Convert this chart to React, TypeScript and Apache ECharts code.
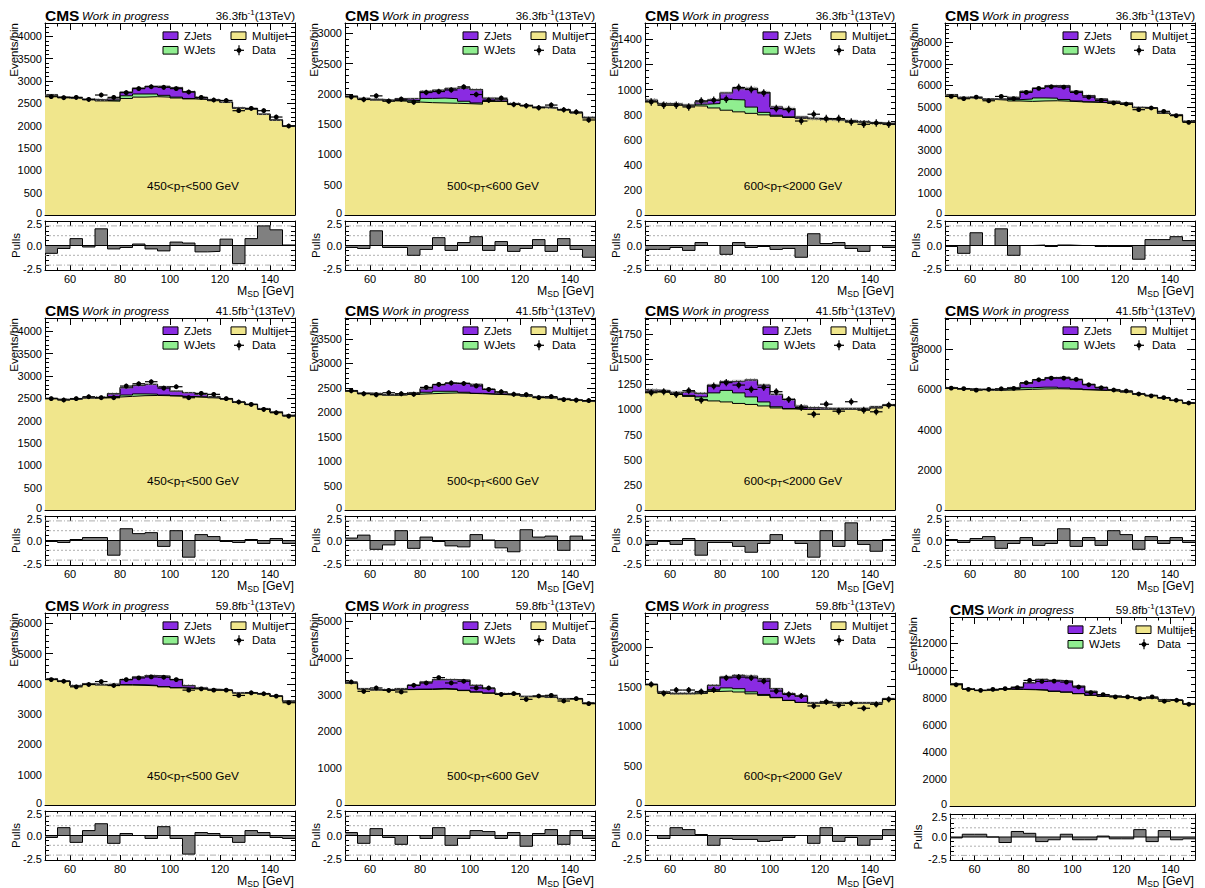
import React, { useEffect, useRef } from "react";
import * as echarts from "echarts";

const FONT = "Liberation Sans, Arial, Helvetica, sans-serif";

const massEdges = [50, 55, 60, 65, 70, 75, 80, 85, 90, 95, 100, 105, 110, 115, 120, 125, 130, 135, 140, 145, 150];
const xTickValues = [60, 80, 100, 120, 140];
const pullTickValues = [-2.5, 0, 2.5];
const pullRefLines = [1, -1, 2, -2];
const lumiLabels = ["36.3", "41.5", "59.8"];
const ptBinLabels: (string[] | null)[] = [["450", "500"], ["500", "600"], ["600", "2000"], null];

// ---- 2016 ----
const mj16_450 = [2685, 2635, 2615, 2580, 2555, 2550, 2610, 2640, 2650, 2640, 2620, 2600, 2590, 2560, 2520, 2390, 2370, 2252, 2122, 1983];
const wj16_450 = [3, 3, 3, 5, 10, 25, 60, 70, 60, 40, 20, 10, 6, 4, 3, 3, 3, 3, 3, 3];
const zj16_450 = [2, 2, 2, 5, 15, 25, 80, 130, 170, 200, 210, 150, 34, 16, 7, 7, 7, 5, 5, 4];
const data16_450 = [2650, 2627, 2635, 2590, 2687, 2635, 2740, 2830, 2873, 2860, 2830, 2755, 2635, 2575, 2565, 2336, 2388, 2336, 2194, 1993];
const pull16_450 = [-0.8, -0.3, 0.7, -0.15, 1.7, -0.35, -0.2, 0.15, -0.35, -0.55, 0.35, 0.25, -0.65, -0.6, 0.65, -1.85, 0.7, 2.0, 1.6, 0.05];

const mj16_500 = [1955, 1918, 1900, 1885, 1880, 1865, 1855, 1850, 1845, 1838, 1830, 1875, 1875, 1832, 1804, 1775, 1765, 1735, 1685, 1605];
const wj16_500 = [3, 3, 3, 5, 15, 25, 70, 80, 75, 40, 20, 10, 5, 3, 3, 3, 3, 3, 3, 3];
const zj16_500 = [4, 3, 4, 6, 23, 34, 115, 130, 170, 222, 220, 45, 30, 5, 3, 2, 2, 2, 2, 2];
const data16_500 = [1951, 1907, 1967, 1880, 1913, 1864, 2022, 2038, 2065, 2115, 1989, 1896, 1929, 1825, 1804, 1771, 1815, 1738, 1700, 1569];
const pull16_500 = [-0.2, -0.3, 1.5, -0.2, -0.2, -1.0, -0.4, 0.8, -0.5, 0.3, 0.9, -0.5, 0.4, -0.6, -0.3, 0.6, -0.6, 0.7, -0.4, -1.2];

const mj16_600 = [905, 885, 880, 870, 868, 853, 835, 822, 810, 798, 787, 777, 770, 765, 760, 755, 747, 739, 730, 725];
const wj16_600 = [3, 3, 3, 5, 15, 35, 85, 95, 50, 20, 8, 5, 3, 3, 3, 3, 3, 3, 3, 3];
const zj16_600 = [7, 0, 0, 0, 18, 27, 53, 91, 148, 158, 66, 66, 8, 1, 1, 2, 1, 1, 1, 1];
const data16_600 = [901, 875, 875, 861, 909, 915, 923, 1016, 1000, 973, 848, 840, 749, 803, 768, 768, 741, 723, 733, 723];
const pull16_600 = [-0.4, -0.4, -0.2, -0.5, 0.3, 0.0, -0.9, 0.3, -0.2, -0.1, -0.4, -0.3, -1.2, 1.2, 0.2, 0.3, -0.3, -0.6, 0.0, -0.2];

const mj16_inc = [5560, 5435, 5405, 5350, 5320, 5280, 5260, 5280, 5290, 5270, 5240, 5220, 5200, 5170, 5130, 4970, 4940, 4710, 4630, 4330];
const wj16_inc = [5, 5, 5, 10, 25, 60, 110, 140, 120, 80, 40, 20, 10, 5, 5, 5, 5, 5, 5, 5];
const zj16_inc = [5, 6, 5, 10, 25, 106, 353, 457, 575, 635, 443, 283, 160, 85, 50, 10, 9, 8, 11, 3];
const data16_inc = [5490, 5385, 5460, 5290, 5490, 5385, 5677, 5860, 5938, 5923, 5677, 5460, 5308, 5185, 5138, 4877, 4954, 4800, 4600, 4292];
const pull16_inc = [-0.1, -0.8, 1.3, 0.0, 1.7, -1.0, 0.0, 0.05, -0.1, 0.05, 0.0, 0.0, -0.1, -0.1, -0.1, -1.4, 0.6, 0.6, 0.9, 0.5];

// ---- 2017 ----
const mj17_450 = [2495, 2473, 2488, 2508, 2515, 2530, 2545, 2560, 2565, 2560, 2550, 2535, 2525, 2510, 2485, 2410, 2360, 2265, 2190, 2115];
const wj17_450 = [3, 3, 3, 4, 6, 10, 30, 40, 30, 15, 8, 5, 4, 3, 3, 3, 3, 3, 3, 3];
const zj17_450 = [2, 2, 2, 3, 9, 64, 164, 191, 218, 186, 106, 87, 61, 24, 5, 5, 2, 1, 1, 1];
const data17_450 = [2493, 2463, 2493, 2537, 2515, 2515, 2776, 2828, 2873, 2731, 2761, 2515, 2612, 2590, 2493, 2418, 2365, 2254, 2179, 2104];
const pull17_450 = [-0.1, -0.2, 0.1, 0.3, 0.3, -1.5, 1.2, 0.7, 0.8, -0.6, 1.0, -1.7, 0.6, 0.4, -0.1, -0.2, 0.1, -0.3, 0.2, -0.3];

const mj17_500 = [2435, 2385, 2370, 2350, 2355, 2370, 2380, 2390, 2395, 2390, 2380, 2370, 2360, 2350, 2330, 2315, 2295, 2275, 2245, 2225];
const wj17_500 = [2, 2, 3, 4, 6, 12, 30, 40, 35, 20, 8, 5, 3, 3, 3, 3, 3, 3, 3, 3];
const zj17_500 = [3, 3, 7, 6, 9, 18, 70, 130, 160, 180, 182, 95, 37, 17, 7, 2, 2, 2, 2, 2];
const data17_500 = [2440, 2380, 2360, 2400, 2380, 2370, 2510, 2570, 2600, 2590, 2540, 2470, 2420, 2370, 2360, 2300, 2320, 2260, 2250, 2240];
const pull17_500 = [0.25, 0.55, -0.9, -0.45, 1.0, -0.8, 0.35, -0.1, -0.55, -0.65, 0.6, 0.05, -0.75, -1.15, 1.1, 0.35, 0.45, -1.0, 0.45, 0.05];

const mj17_600 = [1175, 1170, 1155, 1130, 1100, 1085, 1075, 1060, 1050, 1035, 1015, 1005, 1000, 1000, 1000, 1000, 1000, 1000, 1015, 1040];
const wj17_600 = [5, 5, 5, 10, 25, 80, 115, 105, 75, 40, 12, 5, 3, 3, 3, 3, 3, 3, 3, 3];
const zj17_600 = [13, 12, 10, 37, 35, 78, 87, 118, 168, 168, 123, 90, 30, 14, 7, 7, 7, 7, 9, 0];
const data17_600 = [1167, 1177, 1150, 1187, 1093, 1233, 1267, 1243, 1200, 1220, 1177, 1100, 1020, 953, 1053, 983, 1077, 993, 977, 1043];
const pull17_600 = [-0.4, -0.1, -0.4, 0.2, -1.5, -0.2, -0.2, -0.6, -1.2, -0.3, 0.6, 0.0, -0.3, -1.7, 1.0, -0.6, 1.8, -0.4, -1.1, 0.1];

const mj17_inc = [6075, 6015, 5990, 5960, 5960, 5980, 6000, 6020, 6030, 6020, 6000, 5970, 5950, 5920, 5870, 5765, 5690, 5575, 5445, 5325];
const wj17_inc = [3, 3, 5, 10, 20, 40, 80, 90, 80, 50, 25, 12, 6, 4, 3, 3, 3, 3, 3, 3];
const zj17_inc = [2, 2, 5, 10, 20, 60, 220, 360, 470, 520, 445, 268, 144, 56, 27, 12, 7, 2, 2, 2];
const data17_inc = [6060, 6040, 5960, 6000, 6030, 6050, 6330, 6480, 6560, 6560, 6500, 6230, 6080, 5970, 5920, 5770, 5680, 5590, 5460, 5320];
const pull17_inc = [0.1, -0.2, 0.2, 0.4, -0.8, -0.3, 0.3, -0.5, -0.3, 1.2, -0.6, 0.3, -0.5, 1.0, 0.6, -0.9, 0.4, -0.3, 0.3, -0.2];

// ---- 2018 ----
const mj18_450 = [4160, 4083, 3942, 3993, 3965, 3965, 3960, 3950, 3935, 3900, 3870, 3850, 3830, 3800, 3780, 3700, 3700, 3668, 3592, 3429];
const wj18_450 = [2, 2, 2, 3, 5, 8, 15, 20, 15, 10, 5, 3, 2, 2, 2, 2, 2, 2, 2, 2];
const zj18_450 = [2, 2, 1, 4, 8, 27, 167, 259, 323, 341, 267, 92, 37, 13, 11, 3, 3, 3, 2, 2];
const data18_450 = [4142, 4087, 3902, 3978, 4076, 3945, 4142, 4196, 4229, 4218, 4142, 3793, 3836, 3793, 3793, 3618, 3705, 3673, 3596, 3378];
const pull18_450 = [-0.2, 0.8, -0.7, 0.5, 1.2, -0.8, 0.2, 0.0, -0.3, 0.9, -0.3, -1.9, 0.3, 0.2, -0.2, -0.7, 0.5, 0.3, -0.2, -0.3];

const mj18_500 = [3310, 3155, 3128, 3128, 3135, 3140, 3140, 3150, 3140, 3110, 3070, 3040, 3010, 3010, 2945, 2945, 2925, 2885, 2885, 2765];
const wj18_500 = [2, 2, 2, 3, 5, 10, 15, 20, 15, 10, 5, 3, 2, 2, 2, 2, 2, 2, 2, 2];
const zj18_500 = [6, 7, 6, 5, 24, 105, 190, 239, 254, 271, 180, 121, 15, 15, 8, 8, 9, 4, 4, 6];
const data18_500 = [3345, 3091, 3182, 3118, 3073, 3255, 3318, 3464, 3318, 3364, 3182, 3182, 3009, 3027, 2873, 2964, 2982, 2827, 2891, 2755];
const pull18_500 = [0.3, -0.8, 0.7, -0.2, -0.9, 0.0, -0.3, 0.8, -1.0, -0.3, 0.5, 0.4, -0.3, 0.3, -1.1, 0.2, 0.6, -0.9, 0.5, -0.3];

const mj18_600 = [1525, 1430, 1410, 1410, 1415, 1440, 1445, 1433, 1410, 1390, 1360, 1325, 1300, 1290, 1295, 1290, 1292, 1292, 1293, 1340];
const wj18_600 = [3, 3, 3, 4, 8, 20, 40, 42, 25, 12, 5, 3, 2, 2, 2, 2, 2, 2, 2, 2];
const zj18_600 = [1, 0, 3, 2, 10, 57, 141, 168, 199, 199, 110, 84, 80, 6, 10, 6, 4, 4, 3, 7];
const data18_600 = [1529, 1416, 1458, 1458, 1437, 1458, 1613, 1622, 1613, 1571, 1445, 1403, 1382, 1256, 1307, 1265, 1290, 1227, 1277, 1340];
const pull18_600 = [0.0, -0.3, 0.8, 0.6, 0.1, -1.0, -0.3, -0.4, -0.4, -0.6, -0.5, -0.2, 0.0, -0.8, 0.8, -0.6, -0.2, -1.0, -0.4, 0.6];

const mj18_inc = [9000, 8640, 8520, 8560, 8620, 8600, 8580, 8540, 8460, 8400, 8290, 8170, 8100, 8060, 8020, 7960, 7960, 7840, 7790, 7550];
const wj18_inc = [3, 3, 3, 5, 8, 15, 20, 25, 20, 15, 8, 5, 3, 3, 3, 3, 3, 3, 3, 3];
const zj18_inc = [21, 16, 14, 20, 31, 165, 498, 776, 788, 805, 556, 288, 117, 59, 26, 13, 13, 11, 12, 8];
const data18_inc = [8951, 8610, 8537, 8610, 8659, 8732, 9268, 9195, 9220, 9146, 8780, 8366, 8220, 8049, 8049, 7927, 8049, 7732, 7805, 7512];
const pull18_inc = [-0.1, 0.3, 0.3, 0.0, -0.6, 0.6, 0.4, -0.5, -0.3, 0.3, -0.3, -0.3, 0.1, -0.2, -0.2, 0.8, -0.5, 0.7, -0.3, -0.2];

// axis ranges / data-error size per panel
const panels = [
  { mj: mj16_450, wj: wj16_450, zj: zj16_450, data: data16_450, pull: pull16_450, yMax: 4300, yStep: 500, yMinor: 100, err: 52, unc: 25 },
  { mj: mj16_500, wj: wj16_500, zj: zj16_500, data: data16_500, pull: pull16_500, yMax: 3170, yStep: 500, yMinor: 100, err: 45, unc: 20 },
  { mj: mj16_600, wj: wj16_600, zj: zj16_600, data: data16_600, pull: pull16_600, yMax: 1530, yStep: 200, yMinor: 50, err: 30, unc: 14 },
  { mj: mj16_inc, wj: wj16_inc, zj: zj16_inc, data: data16_inc, pull: pull16_inc, yMax: 8890, yStep: 1000, yMinor: 200, err: 75, unc: 45 },
  { mj: mj17_450, wj: wj17_450, zj: zj17_450, data: data17_450, pull: pull17_450, yMax: 4300, yStep: 500, yMinor: 100, err: 51, unc: 25 },
  { mj: mj17_500, wj: wj17_500, zj: zj17_500, data: data17_500, pull: pull17_500, yMax: 3930, yStep: 500, yMinor: 100, err: 50, unc: 22 },
  { mj: mj17_600, wj: wj17_600, zj: zj17_600, data: data17_600, pull: pull17_600, yMax: 1910, yStep: 250, yMinor: 50, err: 35, unc: 15 },
  { mj: mj17_inc, wj: wj17_inc, zj: zj17_inc, data: data17_inc, pull: pull17_inc, yMax: 9550, yStep: 2000, yMinor: 500, err: 79, unc: 50 },
  { mj: mj18_450, wj: wj18_450, zj: zj18_450, data: data18_450, pull: pull18_450, yMax: 6340, yStep: 1000, yMinor: 200, err: 64, unc: 35 },
  { mj: mj18_500, wj: wj18_500, zj: zj18_500, data: data18_500, pull: pull18_500, yMax: 5220, yStep: 1000, yMinor: 200, err: 57, unc: 30 },
  { mj: mj18_600, wj: wj18_600, zj: zj18_600, data: data18_600, pull: pull18_600, yMax: 2435, yStep: 500, yMinor: 100, err: 39, unc: 18 },
  { mj: mj18_inc, wj: wj18_inc, zj: zj18_inc, data: data18_inc, pull: pull18_inc, yMax: 13950, yStep: 2000, yMinor: 500, err: 93, unc: 60 },
];

const COL_MJ = "#F0E68C";
const COL_WJ = "#90EE90";
const COL_ZJ = "#8A2BE2";
const COL_PULL = "#808080";

function layout(k: number) {
  const col = k % 4;
  const row = Math.floor(k / 4);
  const last = k === 11;
  const L = last ? 950 : 45 + 300 * col;
  const R = 295 + 300 * col;
  const T = last ? 617 : 23 + 295 * row;
  const B = last ? 806 : 215 + 295 * row;
  const PT = last ? 814 : 221 + 295 * row;
  const PB = last ? 860 : 270 + 295 * row;
  return { col, row, L, R, T, B, PT, PB, last };
}

function addAxes(list: any[], dim: "x" | "y", gridIndex: number, min: number, max: number,
  majors: number[], minors: number[], showLabel: boolean, fmt: any, rich: any, majLen: number, minLen: number) {
  const posA = dim === "x" ? "bottom" : "left";
  const posB = dim === "x" ? "top" : "right";
  const base = {
    type: "value", gridIndex, min, max, silent: true,
    splitLine: { show: false }, minorTick: { show: false }, minorSplitLine: { show: false },
  };
  const tick = (vals: number[], len: number) => ({
    show: true, inside: true, length: len, customValues: vals, lineStyle: { color: "#000", width: 1 },
  });
  const idx = list.length;
  list.push({
    ...base, position: posA,
    axisLine: { show: true, onZero: false, lineStyle: { color: "#000", width: 1 } },
    axisTick: tick(majors, majLen),
    axisLabel: showLabel
      ? { show: true, customValues: majors, formatter: fmt, rich, color: "#000", fontFamily: FONT, fontSize: 11, margin: 3 }
      : { show: false },
  });
  list.push({ ...base, position: posA, axisLine: { show: false, onZero: false }, axisTick: tick(minors, minLen), axisLabel: { show: false } });
  list.push({
    ...base, position: posB,
    axisLine: { show: true, onZero: false, lineStyle: { color: "#000", width: 1 } },
    axisTick: tick(majors, majLen), axisLabel: { show: false },
  });
  list.push({ ...base, position: posB, axisLine: { show: false, onZero: false }, axisTick: tick(minors, minLen), axisLabel: { show: false } });
  return idx;
}

function makeHatch() {
  const c = document.createElement("canvas");
  c.width = 4;
  c.height = 4;
  const ctx = c.getContext("2d");
  if (ctx) {
    ctx.fillStyle = "rgba(150,150,150,0.35)";
    ctx.fillRect(0, 0, 4, 4);
    ctx.fillStyle = "#6e6e6e";
    ctx.fillRect(0, 0, 1, 1);
    ctx.fillRect(2, 2, 1, 1);
  }
  return { image: c, repeat: "repeat" };
}

type TS = { size: number; weight?: string; style?: string };
function textEl(x: number, y: number, text: string, f: TS, align = "left", extra: any = {}) {
  return {
    type: "text", x, y, z: 100, silent: true, ...extra,
    style: {
      text, fill: "#000", fontFamily: FONT, fontSize: f.size, fontWeight: f.weight || "normal", fontStyle: f.style || "normal",
      align, verticalAlign: "middle", textAlign: align, textVerticalAlign: "middle",
    },
  };
}
function richEl(x: number, y: number, text: string, rich: any, align: string) {
  return {
    type: "text", x, y, z: 100, silent: true,
    style: { text, rich, align, verticalAlign: "middle", textAlign: align, textVerticalAlign: "middle" },
  };
}

function buildOption() {
  const grids: any[] = [];
  const xAxes: any[] = [];
  const yAxes: any[] = [];
  const series: any[] = [];
  const graphics: any[] = [];
  const hatch = makeHatch();

  const xLo = massEdges[0];
  const xHi = massEdges[massEdges.length - 1];
  const xMinor: number[] = [];
  for (let v = xLo + 5; v < xHi; v += 5) if (!xTickValues.includes(v)) xMinor.push(v);
  const pullMinor = [-2, -1.5, -1, -0.5, 0.5, 1, 1.5, 2];

  const stepData = (arr: number[]) => massEdges.map((e, i) => [e, arr[Math.min(i, arr.length - 1)]]);

  const mainRich = { z: { fontSize: 11, fontFamily: FONT, color: "#000", padding: [0, 0, 4, 0] } };
  const pullRich = {
    t: { fontSize: 11, fontFamily: FONT, color: "#000", padding: [5, 0, 0, 0] },
    b: { fontSize: 11, fontFamily: FONT, color: "#000", padding: [0, 0, 3, 0] },
  };
  const mainFmt = (v: number) => (v === 0 ? "{z|0}" : String(Math.round(v)));
  const pullFmt = (v: number) => (v > 0 ? `{t|${v.toFixed(1)}}` : v < 0 ? `{b|${v.toFixed(1)}}` : v.toFixed(1));

  panels.forEach((p, k) => {
    const g = layout(k);
    const gm = grids.length;
    grids.push({ left: g.L, top: g.T, width: g.R - g.L, height: g.B - g.T, containLabel: false, outerBoundsMode: "none" });
    const gp = grids.length;
    grids.push({ left: g.L, top: g.PT, width: g.R - g.L, height: g.PB - g.PT, containLabel: false, outerBoundsMode: "none" });

    const yMaj: number[] = [];
    for (let v = 0; v <= p.yMax + 1e-6; v += p.yStep) yMaj.push(v);
    const yMin: number[] = [];
    for (let v = p.yMinor; v < p.yMax; v += p.yMinor) if (Math.abs(v % p.yStep) > 1e-6) yMin.push(v);

    const xm = addAxes(xAxes, "x", gm, xLo, xHi, xTickValues, xMinor, false, null, null, 7, 3.5);
    const ym = addAxes(yAxes, "y", gm, 0, p.yMax, yMaj, yMin, true, mainFmt, mainRich, 8, 4);
    const xp = addAxes(xAxes, "x", gp, xLo, xHi, xTickValues, xMinor, true, (v: number) => String(v), null, 5, 2.5);
    const yp = addAxes(yAxes, "y", gp, -2.5, 2.5, pullTickValues, pullMinor, true, pullFmt, pullRich, 8, 4);

    const mw = p.mj.map((m, i) => m + p.wj[i]);
    const total = mw.map((m, i) => m + p.zj[i]);

    const stackLine = (name: string, arr: number[], color: string, lw: number) => ({
      type: "line", name, xAxisIndex: xm, yAxisIndex: ym, step: "end", symbol: "none", silent: true,
      data: stepData(arr), lineStyle: { color: "#000", width: lw }, areaStyle: { color, opacity: 1 }, z: 2,
    });
    series.push(stackLine("ZJets", total, COL_ZJ, 1.3));
    series.push(stackLine("WJets", mw, COL_WJ, 1));
    series.push(stackLine("Multijet", p.mj, COL_MJ, 1));

    series.push({
      type: "custom", xAxisIndex: xm, yAxisIndex: ym, silent: true, z: 3,
      data: total.map((t, i) => [massEdges[i], massEdges[i + 1], t, p.unc]),
      encode: { x: [0, 1], y: 2 },
      renderItem: (params: any, api: any) => {
        const a = api.coord([api.value(0), api.value(2) + api.value(3)]);
        const b = api.coord([api.value(1), api.value(2) - api.value(3)]);
        return { type: "rect", shape: { x: a[0], y: a[1], width: b[0] - a[0], height: b[1] - a[1] }, style: { fill: hatch } };
      },
    });

    series.push({
      type: "custom", xAxisIndex: xm, yAxisIndex: ym, silent: true, z: 5,
      data: p.data.map((v, i) => [(massEdges[i] + massEdges[i + 1]) / 2, v, p.err, (massEdges[i + 1] - massEdges[i]) / 2]),
      encode: { x: 0, y: 1 },
      renderItem: (params: any, api: any) => {
        const x = api.value(0), y = api.value(1), e = api.value(2), hw = api.value(3);
        const c = api.coord([x, y]);
        const l = api.coord([x - hw, y]);
        const r = api.coord([x + hw, y]);
        const t = api.coord([x, y + e]);
        const b = api.coord([x, y - e]);
        return {
          type: "group",
          children: [
            { type: "line", shape: { x1: l[0], y1: c[1], x2: r[0], y2: c[1] }, style: { stroke: "#000", lineWidth: 1.2 } },
            { type: "line", shape: { x1: c[0], y1: t[1], x2: c[0], y2: b[1] }, style: { stroke: "#000", lineWidth: 1.2 } },
            { type: "circle", shape: { cx: c[0], cy: c[1], r: 2.4 }, style: { fill: "#000" } },
          ],
        };
      },
    });

    series.push({
      type: "custom", xAxisIndex: xp, yAxisIndex: yp, silent: true, z: 1,
      data: pullRefLines.map((v) => [xLo, v]),
      encode: { x: 0, y: 1 },
      renderItem: (params: any, api: any) => {
        const v = api.value(1);
        const a = api.coord([xLo, v]);
        const b = api.coord([xHi, v]);
        const dash = Math.abs(v) > 1.5 ? [6, 2, 1, 2] : [2, 2];
        return { type: "line", shape: { x1: a[0], y1: a[1], x2: b[0], y2: b[1] }, style: { stroke: "#9a9a9a", lineWidth: 0.8, lineDash: dash } };
      },
    });
    series.push({
      type: "line", xAxisIndex: xp, yAxisIndex: yp, step: "end", symbol: "none", silent: true, z: 2,
      data: stepData(p.pull), lineStyle: { color: "#000", width: 1 }, areaStyle: { color: COL_PULL, opacity: 1 },
    });
    series.push({
      type: "custom", xAxisIndex: xp, yAxisIndex: yp, silent: true, z: 3,
      data: [[xLo, 0]], encode: { x: 0, y: 1 },
      renderItem: (params: any, api: any) => {
        const a = api.coord([xLo, 0]);
        const b = api.coord([xHi, 0]);
        return { type: "line", shape: { x1: a[0], y1: a[1], x2: b[0], y2: b[1] }, style: { stroke: "#000", lineWidth: 1 } };
      },
    });

    // ---------- texts ----------
    const hy = g.T - 8;
    graphics.push(textEl(g.L, hy, "CMS", { size: 15.5, weight: "bold" }));
    graphics.push(textEl(g.L + 37, hy + 0.5, "Work in progress", { size: 11.5, style: "italic" }));
    graphics.push(richEl(g.R, hy + 0.5, `{a|${lumiLabels[g.row]}fb}{s|-1}{a|(13TeV)}`, {
      a: { fontSize: 11.5, fontFamily: FONT, fill: "#000", lineHeight: 14, verticalAlign: "middle" },
      s: { fontSize: 8, fontFamily: FONT, fill: "#000", lineHeight: 8, verticalAlign: "top" },
    }, "right"));

    // legend
    const r1 = g.T + 12.7;
    const r2 = g.T + 27.3;
    const box = (x: number, yc: number, color: string) => ({
      type: "rect", z: 100, silent: true, shape: { x, y: yc - 3.8, width: 15, height: 7.6 }, style: { fill: color, stroke: "#000", lineWidth: 1 },
    });
    const lf = { size: 11.3 };
    graphics.push(box(g.L + 118, r1, COL_ZJ));
    graphics.push(textEl(g.L + 139, r1, "ZJets", lf));
    graphics.push(box(g.L + 186, r1, COL_MJ));
    graphics.push(textEl(g.L + 207, r1, "Multijet", lf));
    graphics.push(box(g.L + 118, r2, COL_WJ));
    graphics.push(textEl(g.L + 139, r2, "WJets", lf));
    const dx = g.L + 194;
    graphics.push({ type: "line", z: 100, silent: true, shape: { x1: dx - 5, y1: r2, x2: dx + 5, y2: r2 }, style: { stroke: "#000", lineWidth: 1.2 } });
    graphics.push({ type: "line", z: 100, silent: true, shape: { x1: dx, y1: r2 - 5, x2: dx, y2: r2 + 5 }, style: { stroke: "#000", lineWidth: 1.2 } });
    graphics.push({ type: "circle", z: 100, silent: true, shape: { cx: dx, cy: r2, r: 2.4 }, style: { fill: "#000" } });
    graphics.push(textEl(g.L + 207, r2, "Data", lf));

    const pt = ptBinLabels[g.col];
    if (pt && !g.last) {
      graphics.push(richEl(g.L + 148, g.B - 29, `{a|${pt[0]}<p}{s|T}{a|<${pt[1]} GeV}`, {
        a: { fontSize: 11.8, fontFamily: FONT, fill: "#000", lineHeight: 14, verticalAlign: "middle" },
        s: { fontSize: 8.5, fontFamily: FONT, fill: "#000", lineHeight: 8, verticalAlign: "bottom" },
      }, "center"));
    }

    const titleX = g.last ? g.L - 37 : g.L - 31;
    graphics.push(textEl(titleX, g.T, "Events/bin", { size: 11.5 }, "right", { rotation: Math.PI / 2 }));
    graphics.push(textEl(g.last ? g.L - 32 : g.L - 29, (g.PT + g.PB) / 2, "Pulls", { size: 11.5 }, "center", { rotation: Math.PI / 2 }));
    graphics.push(richEl(g.R - 1, g.PB + 21, "{a|M}{s|SD}{a| [GeV]}", {
      a: { fontSize: 12.3, fontFamily: FONT, fill: "#000", lineHeight: 14, verticalAlign: "middle" },
      s: { fontSize: 8.5, fontFamily: FONT, fill: "#000", lineHeight: 8, verticalAlign: "bottom" },
    }, "right"));
  });

  return {
    animation: false,
    backgroundColor: "#fff",
    grid: grids,
    xAxis: xAxes,
    yAxis: yAxes,
    series,
    graphic: graphics,
  };
}

export default function App() {
  const ref = useRef<HTMLDivElement>(null);
  useEffect(() => {
    document.body.style.margin = "0";
    if (!ref.current) return;
    const chart = echarts.init(ref.current, null, { renderer: "svg" });
    chart.setOption(buildOption() as any);
    return () => chart.dispose();
  }, []);
  return <div ref={ref} style={{ position: "fixed", left: 0, top: 0, width: 1205, height: 888, background: "#fff" }} />;
}
